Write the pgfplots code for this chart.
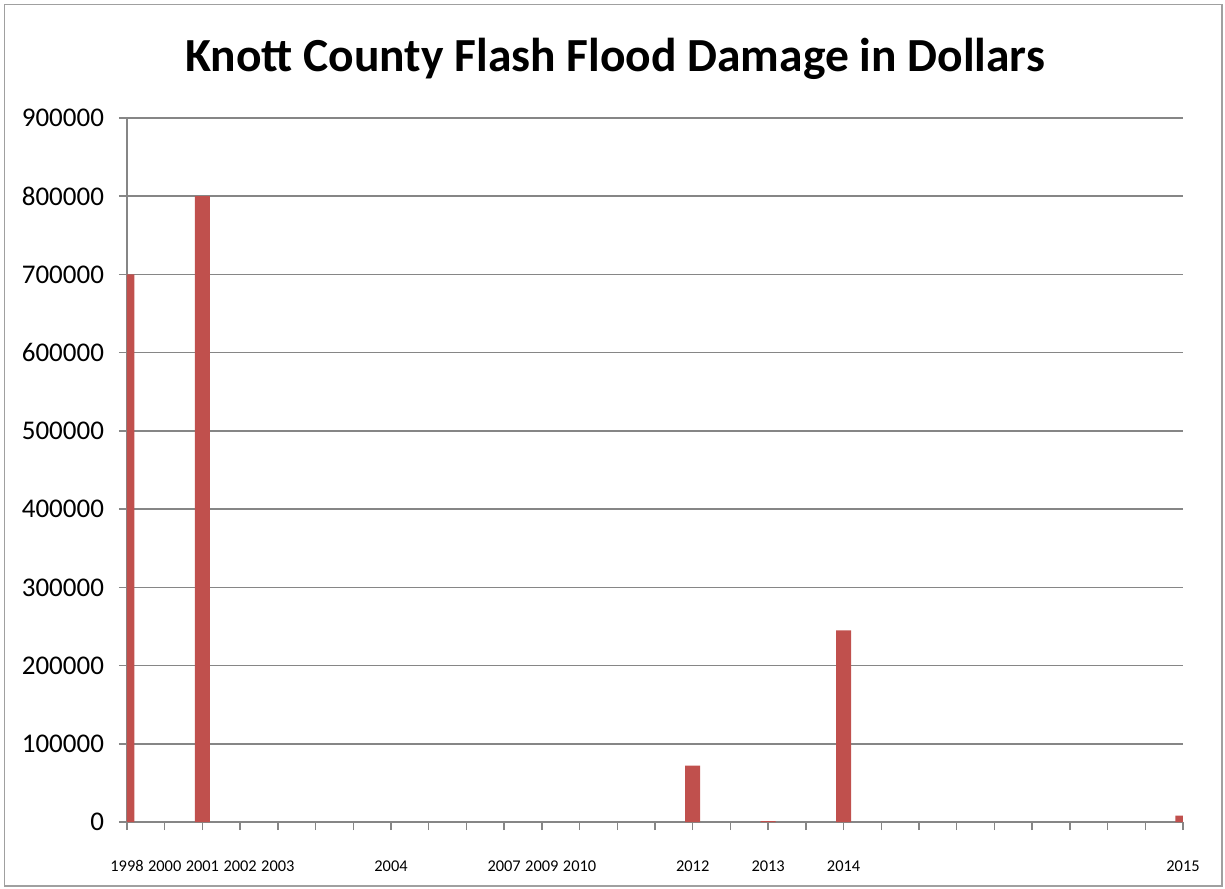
\documentclass[border=0pt]{standalone}
\usepackage{fontspec}
\setmainfont{Carlito}
\usepackage{pgfplots}
\pgfplotsset{compat=1.18}
\definecolor{barred}{RGB}{192,80,77}
\definecolor{gridgray}{RGB}{134,134,134}
\definecolor{framegray}{RGB}{160,160,160}
\begin{document}
\begin{tikzpicture}
\useasboundingbox (0pt,0pt) rectangle (1225pt,888pt);
\draw[framegray, line width=1.5pt] (4.5pt,2pt) rectangle (1222pt,883.5pt);
\node[anchor=base, inner sep=0pt, font=\fontsize{47.5}{52}\selectfont\bfseries] at (615pt,816.5pt) {Knott County Flash Flood Damage in Dollars};
\begin{axis}[
  at={(127pt,66pt)}, anchor=south west, scale only axis,
  width=1056pt, height=704pt,
  xmin=0, xmax=28, ymin=0, ymax=900000,
  scaled y ticks=false,
  axis x line*=bottom, axis y line*=left,
  axis line style={-, gridgray, line width=1.5pt},
  ymajorgrids, major grid style={gridgray, line width=1.5pt},
  tick align=outside, major tick length=8pt,
  tick style={gridgray, line width=1.5pt},
  xtick={0,...,28},
  xticklabels={1998,2000,2001,2002,2003,{},{},2004,{},{},2007,2009,2010,{},{},2012,{},2013,{},2014,{},{},{},{},{},{},{},{},2015},
  ytick={0,100000,200000,300000,400000,500000,600000,700000,800000,900000},
  yticklabels={0,100000,200000,300000,400000,500000,600000,700000,800000,900000},
  xticklabel style={font=\fontsize{16.4}{18}\selectfont, black, yshift=-27pt},
  yticklabel style={font=\fontsize{27}{30}\selectfont, black, xshift=-11.5pt},
  ybar, bar width=15pt,
  clip=true,
]
\addplot[fill=barred, draw=none] coordinates {(0,700000) (2,800000) (15,72000) (17,1200) (19,245000) (28,8000)};
\end{axis}
\end{tikzpicture}
\end{document}
